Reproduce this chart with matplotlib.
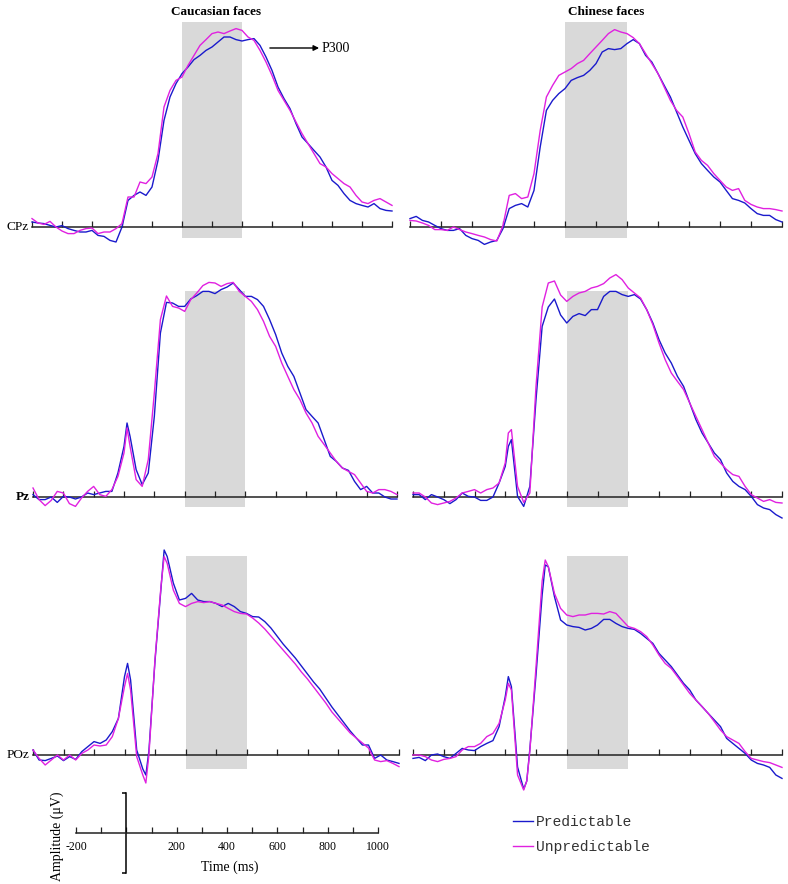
"""ERP waveforms (CPz / Pz / POz) for predictable vs unpredictable faces, P300 window shaded."""
import matplotlib
matplotlib.use("Agg")
import matplotlib.pyplot as plt

# ------------------------------------------------------------------ data (uV)
T_CPZ = list(range(-200, 1001, 20))
T_PZ = list(range(-200, 101, 20)) + [110] + list(range(120, 1001, 20))
T_POZ = (list(range(-200, 101, 20)) + [110, 120, 140, 160, 170, 180, 200, 220, 230, 240]
         + list(range(260, 1001, 20)))

CAU_CPZ_PRED = [0.25, 0.2, 0.17, 0.08, 0.0, 0.07, -0.08, -0.17, -0.25, -0.25,
                -0.17, -0.42, -0.47, -0.67, -0.75, 0.0, 1.33, 1.58, 1.75, 1.58,
                2.0, 3.33, 5.33, 6.5, 7.17, 7.67, 8.0, 8.37, 8.58, 8.83,
                9.0, 9.25, 9.5, 9.5, 9.37, 9.3, 9.37, 9.42, 9.08, 8.5,
                7.83, 7.0, 6.42, 5.92, 5.17, 4.5, 4.17, 3.83, 3.5, 3.0,
                2.33, 2.08, 1.67, 1.33, 1.17, 1.08, 1.0, 1.17, 0.92, 0.83, 0.8]
CAU_CPZ_UNPR = [0.42, 0.2, 0.13, 0.28, 0.0, -0.2, -0.33, -0.33, -0.17, -0.08,
                -0.05, -0.33, -0.25, -0.25, -0.08, 0.17, 1.5, 1.5, 2.25, 2.17,
                2.5, 3.67, 6.0, 6.83, 7.33, 7.5, 8.08, 8.58, 9.08, 9.37,
                9.67, 9.75, 9.67, 9.8, 9.92, 9.83, 9.5, 9.33, 8.83, 8.25,
                7.58, 6.83, 6.33, 5.83, 5.25, 4.67, 4.17, 3.67, 3.17, 3.0,
                2.67, 2.42, 2.17, 2.0, 1.58, 1.25, 1.17, 1.33, 1.42, 1.25, 1.08]
CHI_CPZ_PRED = [0.42, 0.53, 0.33, 0.25, 0.08, -0.08, -0.17, -0.17, -0.08, -0.42,
                -0.58, -0.67, -0.87, -0.75, -0.67, -0.08, 0.92, 1.08, 1.17, 1.0,
                1.83, 4.0, 5.83, 6.33, 6.67, 6.92, 7.33, 7.47, 7.58, 7.83,
                8.17, 8.75, 8.92, 8.87, 8.92, 9.17, 9.37, 9.17, 8.58, 8.25,
                7.67, 7.08, 6.5, 5.75, 5.0, 4.33, 3.67, 3.17, 2.83, 2.5,
                2.25, 1.83, 1.42, 1.33, 1.2, 0.92, 0.67, 0.58, 0.58, 0.37, 0.25]
CHI_CPZ_UNPR = [0.33, 0.3, 0.2, 0.08, -0.13, -0.13, -0.17, 0.0, -0.13, -0.25,
                -0.33, -0.42, -0.5, -0.63, -0.7, 0.08, 1.58, 1.67, 1.42, 1.5,
                2.67, 4.83, 6.5, 7.08, 7.58, 7.75, 7.92, 8.17, 8.33, 8.67,
                9.0, 9.33, 9.67, 9.87, 9.75, 9.67, 9.47, 9.17, 8.67, 8.17,
                7.67, 7.0, 6.33, 5.83, 5.5, 4.67, 3.75, 3.33, 3.08, 2.67,
                2.33, 2.0, 1.83, 1.92, 1.33, 1.13, 1.0, 0.92, 0.92, 0.87, 0.8]

CAU_PZ_PRED = [0.12, -0.13, -0.13, 0.0, -0.27, 0.03, 0.0, -0.1, 0.0, 0.2,
               0.12, 0.2, 0.28, 0.28, 1.2, 2.53, 3.7,
               3.03, 1.37, 0.62, 1.2, 4.03, 8.2, 9.73, 9.7, 9.53,
               9.53, 9.9, 10.07, 10.28, 10.28, 10.17, 10.37, 10.5, 10.7, 10.37,
               10.03, 10.03, 9.87, 9.53, 8.87, 8.12, 7.2, 6.53, 6.03, 5.2,
               4.37, 4.03, 3.7, 2.87, 2.03, 1.78, 1.45, 1.33, 0.78, 0.37,
               0.53, 0.2, 0.2, 0.0, -0.1, -0.1]
CAU_PZ_UNPR = [0.45, -0.13, -0.43, -0.17, 0.28, 0.2, -0.33, -0.47, -0.05, 0.28,
               0.53, 0.12, 0.03, 0.37, 1.03, 2.2, 3.45,
               2.53, 0.87, 0.53, 1.87, 5.2, 8.87, 10.05, 9.53, 9.45,
               9.28, 9.87, 10.2, 10.57, 10.73, 10.7, 10.53, 10.67, 10.73, 10.28,
               10.03, 9.78, 9.37, 8.78, 8.03, 7.53, 6.7, 6.03, 5.37, 4.87,
               4.2, 3.7, 3.03, 2.62, 2.2, 1.78, 1.45, 1.28, 1.12, 0.7,
               0.28, 0.2, 0.37, 0.37, 0.28, 0.12]
CHI_PZ_PRED = [0.12, 0.12, -0.13, 0.12, 0.0, -0.13, -0.33, -0.13, 0.2, 0.03,
               0.0, -0.17, -0.17, 0.0, 0.7, 1.53, 2.53,
               2.87, 0.03, -0.47, 0.53, 4.87, 8.53, 9.5, 9.9, 9.1,
               8.7, 9.03, 9.17, 9.07, 9.37, 9.37, 10.03, 10.28, 10.28, 10.12,
               10.03, 10.12, 9.9, 9.37, 8.7, 7.87, 7.2, 6.7, 6.03, 5.53,
               4.7, 3.87, 3.2, 2.7, 2.2, 1.87, 1.2, 0.78, 0.53, 0.37,
               0.03, -0.38, -0.55, -0.63, -0.88, -1.05]
CHI_PZ_UNPR = [0.2, 0.2, 0.0, -0.3, -0.38, -0.3, -0.22, -0.05, 0.2, 0.28,
               0.37, 0.2, 0.37, 0.45, 0.7, 1.7, 3.2,
               3.37, 0.53, -0.27, 0.2, 5.53, 9.5, 10.7, 10.8, 10.1,
               9.78, 10.03, 10.2, 10.28, 10.45, 10.53, 10.67, 10.95, 11.12, 10.87,
               10.45, 10.2, 9.95, 9.37, 8.62, 7.7, 6.87, 6.2, 5.78, 5.37,
               4.7, 4.03, 3.37, 2.7, 2.03, 1.7, 1.37, 1.12, 1.03, 0.53,
               0.12, -0.05, -0.22, -0.13, -0.27, -0.3]

CAU_POZ_PRED = [0.25, -0.25, -0.28, -0.17, -0.05, -0.28, -0.08, -0.22, 0.17, 0.42,
                0.67, 0.58, 0.75, 1.17, 1.83, 3.92, 4.58,
                3.75, 0.25, -0.7, -1.0, 0.2, 4.7, 8.4, 10.25, 9.92,
                8.6, 7.75, 7.83, 8.08, 7.75, 7.67, 7.67, 7.58, 7.42, 7.58,
                7.42, 7.17, 7.08, 6.92, 6.9, 6.67, 6.35, 5.95, 5.55, 5.2,
                4.85, 4.45, 4.05, 3.65, 3.3, 2.85, 2.4, 2.0, 1.6, 1.2,
                0.85, 0.5, 0.5, -0.17, 0.0, -0.25, -0.33, -0.42]
CAU_POZ_UNPR = [0.25, -0.17, -0.5, -0.25, 0.0, -0.25, 0.0, -0.25, 0.08, 0.25,
                0.5, 0.45, 0.5, 0.92, 1.83, 3.42, 4.08,
                3.25, -0.08, -1.0, -1.4, 0.0, 4.8, 8.5, 9.92, 9.58,
                8.25, 7.58, 7.42, 7.58, 7.67, 7.62, 7.67, 7.58, 7.5, 7.33,
                7.17, 7.08, 7.05, 6.85, 6.6, 6.3, 5.95, 5.6, 5.25, 4.9,
                4.55, 4.15, 3.8, 3.4, 3.0, 2.6, 2.15, 1.8, 1.45, 1.1,
                0.85, 0.6, 0.35, -0.25, -0.33, -0.28, -0.42, -0.58]
CHI_POZ_PRED = [-0.17, -0.12, -0.28, 0.0, 0.05, -0.08, -0.17, 0.08, 0.33, 0.25,
                0.22, 0.42, 0.58, 0.72, 1.42, 2.92, 3.92,
                3.42, -0.6, -1.7, -1.3, 0.3, 4.0, 8.0, 9.5, 9.42,
                7.92, 6.75, 6.5, 6.42, 6.38, 6.25, 6.33, 6.5, 6.78, 6.78,
                6.58, 6.42, 6.33, 6.28, 6.08, 5.83, 5.58, 5.08, 4.75, 4.42,
                4.0, 3.58, 3.25, 2.75, 2.42, 2.08, 1.75, 1.42, 0.83, 0.58,
                0.33, 0.08, -0.25, -0.42, -0.5, -0.62, -1.0, -1.17]
CHI_POZ_UNPR = [0.0, 0.0, -0.08, -0.25, -0.33, -0.22, -0.17, -0.08, 0.25, 0.42,
                0.42, 0.58, 0.92, 1.08, 1.58, 2.75, 3.58,
                3.25, -1.0, -1.75, -1.3, 0.2, 4.4, 8.7, 9.75, 9.42,
                8.08, 7.33, 7.0, 6.92, 7.0, 7.0, 7.08, 7.08, 7.05, 7.17,
                7.08, 6.75, 6.42, 6.33, 6.17, 5.92, 5.5, 5.0, 4.58, 4.33,
                3.92, 3.5, 3.08, 2.75, 2.42, 2.08, 1.67, 1.25, 0.92, 0.75,
                0.58, 0.17, -0.17, -0.25, -0.33, -0.38, -0.5, -0.62]

CHANNELS = ["CPz", "Pz", "POz"]
GROUPS = ["Caucasian faces", "Chinese faces"]
CONDITIONS = ["Predictable", "Unpredictable"]
WINDOW = [300, 500]                 # P300 window, ms
XTICKS = list(range(-200, 1001, 100))
SCALE_LABELS = ["-200", "", "", "", "200", "", "400", "", "600", "", "800", "", "1000"]

DATA = {
    ("CPz", 0): (T_CPZ, CAU_CPZ_PRED, CAU_CPZ_UNPR),
    ("CPz", 1): (T_CPZ, CHI_CPZ_PRED, CHI_CPZ_UNPR),
    ("Pz", 0): (T_PZ, CAU_PZ_PRED, CAU_PZ_UNPR),
    ("Pz", 1): (T_PZ, CHI_PZ_PRED, CHI_PZ_UNPR),
    ("POz", 0): (T_POZ, CAU_POZ_PRED, CAU_POZ_UNPR),
    ("POz", 1): (T_POZ, CHI_POZ_PRED, CHI_POZ_UNPR),
}

# ------------------------------------------------------------------ layout (pixels)
W, H = 788, 884
PX_PER_UV = 20.0
BASE_Y = [227, 497, 755]                                  # baseline row positions
COL_X = [[(32, 392), (410, 782)],
         [(33, 397), (413, 782)],
         [(33, 399), (413, 782)]]
TITLE_X = [216, 606]
BOX_Y = [(-0.55, 10.25), (-0.5, 10.3), (-0.7, 9.95)]     # grey window extent, uV
BLUE, MAGENTA, GREY = "#1a1acc", "#e021e0", "#d9d9d9"
SERIF = "Liberation Serif"

fig = plt.figure(figsize=(W / 100, H / 100), dpi=100)


def add_px_axes(x0, x1, ybase, lo, hi):
    """Axes whose x spans -200..1000 ms over pixels x0..x1 and whose y=0 sits at ybase."""
    bottom_px = ybase - lo * PX_PER_UV
    ax = fig.add_axes([x0 / W, 1 - bottom_px / H, (x1 - x0) / W, (hi - lo) * PX_PER_UV / H])
    ax.set_xlim(-200, 1000)
    ax.set_ylim(lo, hi)
    ax.patch.set_visible(False)
    for s in ("top", "right", "left"):
        ax.spines[s].set_visible(False)
    ax.spines["bottom"].set_position(("data", 0))
    ax.spines["bottom"].set_linewidth(1.1)
    ax.spines["bottom"].set_color("#222222")
    ax.set_yticks([])
    ax.set_xticks(XTICKS)
    ax.tick_params(axis="x", direction="in", length=4, width=0.9, color="#222222",
                   labelbottom=False)
    return ax


handles = None
for r, ch in enumerate(CHANNELS):
    for c in range(2):
        x0, x1 = COL_X[r][c]
        ax = add_px_axes(x0, x1, BASE_Y[r], -2.5, 11.5)
        ax.fill_between(WINDOW, BOX_Y[r][0], BOX_Y[r][1], color=GREY, lw=0, zorder=0)
        t, pred, unpr = DATA[(ch, c)]
        l1, = ax.plot(t, pred, color=BLUE, lw=1.0, clip_on=False, zorder=3)
        l2, = ax.plot(t, unpr, color=MAGENTA, lw=1.0, clip_on=False, zorder=3)
        handles = handles or [l1, l2]
        if c == 0:
            ax.text(-212, 0, ch, ha="right", va="center", family=SERIF, fontsize=9.5,
                    fontweight="bold" if ch == "Pz" else "normal")

# column titles
for c, g in enumerate(GROUPS):
    fig.text(TITLE_X[c] / W, 1 - 12 / H, g, ha="center", va="center", family=SERIF,
             fontsize=9.5, fontweight="bold")

# P300 pointer on the first panel
ax0 = fig.axes[0]
ax0.annotate("", xy=(757, 8.95), xytext=(593, 8.95),
             arrowprops=dict(arrowstyle="-|>", color="black", lw=1.0,
                             mutation_scale=8, shrinkA=0, shrinkB=0))
ax0.text(765, 8.95, "P300", ha="left", va="center", family=SERIF, fontsize=10)

# ------------------------------------------------------------------ scale bar
sx = add_px_axes(76, 378, 833, -2.05, 2.05)
sx.set_xticklabels(SCALE_LABELS)
sx.tick_params(axis="x", labelbottom=True, pad=6, labelsize=8.5)
for lab in sx.get_xticklabels():
    lab.set_family(SERIF)
sx.spines["left"].set_visible(True)
sx.spines["left"].set_position(("data", 0))
sx.spines["left"].set_bounds(-2, 2)
sx.spines["left"].set_linewidth(1.1)
sx.set_yticks([-2, 2])
sx.tick_params(axis="y", direction="out", length=3, width=1.1, labelleft=False)
fig.text(230 / W, 1 - 867 / H, "Time (ms)", ha="center", va="center", family=SERIF,
         fontsize=10)
fig.text(57 / W, 1 - 836 / H, "Amplitude (\u03bcV)", ha="center", va="center",
         family=SERIF, fontsize=10, rotation=90)

# ------------------------------------------------------------------ legend
fig.legend(handles, CONDITIONS, loc="upper left", bbox_to_anchor=(513 / W, 1 - 815 / H),
           frameon=False, borderpad=0, borderaxespad=0, handlelength=1.4,
           handletextpad=0.15, labelspacing=0.75,
           prop={"family": "Liberation Mono", "size": 10.5}, labelcolor="#333333")

fig.savefig("out.png", dpi=100)
